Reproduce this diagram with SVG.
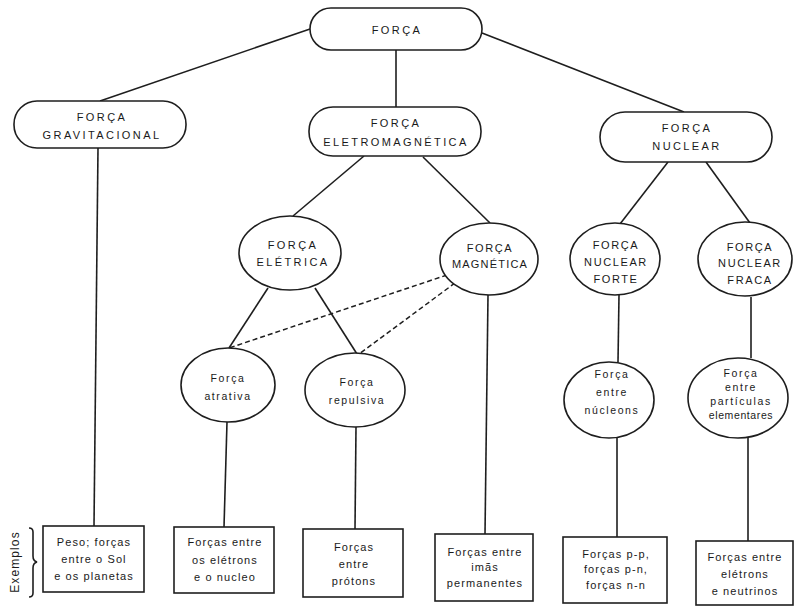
<svg xmlns="http://www.w3.org/2000/svg" width="794" height="608" viewBox="0 0 794 608">
  <style>
    .shape { fill: #ffffff; stroke: #1e1e1e; stroke-width: 1.6; }
    .link { fill: none; stroke: #1e1e1e; stroke-width: 1.6; }
    .dash { fill: none; stroke: #1e1e1e; stroke-width: 1.5; stroke-dasharray: 5 3; }
    .cap { font-family: "Liberation Sans", Arial, sans-serif; font-size: 11px; letter-spacing: 2.4px; fill: #1a1a1a; text-anchor: middle; }
    .low { font-family: "Liberation Sans", Arial, sans-serif; font-size: 11px; letter-spacing: 1.1px; fill: #1a1a1a; text-anchor: middle; }
    .small { font-family: "Liberation Sans", Arial, sans-serif; font-size: 10.5px; letter-spacing: 1.6px; fill: #1a1a1a; text-anchor: middle; }
  </style>

  <g id="connectors">
    <line class="link" x1="310" y1="29" x2="100" y2="101"/>
    <line class="link" x1="396" y1="50" x2="396" y2="107"/>
    <line class="link" x1="482" y1="33" x2="684" y2="112"/>
    <line class="link" x1="98" y1="148" x2="94" y2="526"/>
    <line class="link" x1="364" y1="156" x2="293" y2="216"/>
    <line class="link" x1="423" y1="157" x2="490" y2="223"/>
    <line class="link" x1="668" y1="162" x2="620" y2="224"/>
    <line class="link" x1="706" y1="162" x2="750" y2="223"/>
    <line class="link" x1="268" y1="288" x2="229" y2="348"/>
    <line class="link" x1="315" y1="288" x2="357" y2="354"/>
    <line class="link" x1="488" y1="295" x2="485" y2="534"/>
    <line class="link" x1="619" y1="295" x2="618" y2="362"/>
    <line class="link" x1="751" y1="297" x2="751" y2="358"/>
    <line class="link" x1="227" y1="422" x2="224" y2="527"/>
    <line class="link" x1="356" y1="427" x2="355" y2="529"/>
    <line class="link" x1="617" y1="438" x2="617" y2="537"/>
    <line class="link" x1="748" y1="438" x2="748" y2="541"/>
    <line class="dash" x1="447" y1="275" x2="229" y2="348"/>
    <line class="dash" x1="455" y1="283" x2="359" y2="354"/>
  </g>

  <g id="forca">
    <rect class="shape" x="310" y="8" width="172" height="42" rx="21"/>
    <text class="cap" x="397" y="34">FORÇA</text>
  </g>

  <g id="gravitacional">
    <rect class="shape" x="14" y="101" width="172" height="47" rx="23"/>
    <text class="cap" x="102" y="121">FORÇA</text>
    <text class="cap" x="102" y="139">GRAVITACIONAL</text>
  </g>

  <g id="eletromagnetica">
    <rect class="shape" x="309" y="107" width="172" height="49" rx="24"/>
    <text class="cap" x="396" y="127">FORÇA</text>
    <text class="cap" x="396" y="146">ELETROMAGNÉTICA</text>
  </g>

  <g id="nuclear">
    <rect class="shape" x="600" y="112" width="172" height="50" rx="25"/>
    <text class="cap" x="687" y="132">FORÇA</text>
    <text class="cap" x="687" y="150">NUCLEAR</text>
  </g>

  <g id="eletrica">
    <ellipse class="shape" cx="290" cy="253" rx="51" ry="37"/>
    <text class="cap" x="293" y="249">FORÇA</text>
    <text class="cap" x="293" y="266">ELÉTRICA</text>
  </g>

  <g id="magnetica">
    <ellipse class="shape" cx="489" cy="259" rx="49" ry="36"/>
    <text class="cap" x="490" y="252" style="letter-spacing:1.6px">FORÇA</text>
    <text class="cap" x="490" y="268" style="letter-spacing:1.2px">MAGNÉTICA</text>
  </g>

  <g id="nuclear-forte">
    <ellipse class="shape" cx="615" cy="259" rx="45" ry="36"/>
    <text class="cap" x="616" y="249" style="letter-spacing:1.6px">FORÇA</text>
    <text class="cap" x="616" y="266" style="letter-spacing:1.6px">NUCLEAR</text>
    <text class="cap" x="616" y="283" style="letter-spacing:1.6px">FORTE</text>
  </g>

  <g id="nuclear-fraca">
    <ellipse class="shape" cx="745" cy="259" rx="47" ry="37"/>
    <text class="cap" x="750" y="251" style="letter-spacing:1.6px">FORÇA</text>
    <text class="cap" x="750" y="267" style="letter-spacing:1.6px">NUCLEAR</text>
    <text class="cap" x="750" y="284" style="letter-spacing:1.6px">FRACA</text>
  </g>

  <g id="atrativa">
    <ellipse class="shape" cx="228" cy="385" rx="47" ry="37"/>
    <text class="small" x="228" y="382">Força</text>
    <text class="small" x="228" y="400">atrativa</text>
  </g>

  <g id="repulsiva">
    <ellipse class="shape" cx="355" cy="390" rx="50" ry="37"/>
    <text class="small" x="357" y="386">Força</text>
    <text class="small" x="357" y="404">repulsiva</text>
  </g>

  <g id="nucleons">
    <ellipse class="shape" cx="609" cy="400" rx="45" ry="38"/>
    <text class="small" x="612" y="378">Força</text>
    <text class="small" x="612" y="396">entre</text>
    <text class="small" x="612" y="414">núcleons</text>
  </g>

  <g id="particulas">
    <ellipse class="shape" cx="738" cy="398" rx="50" ry="40"/>
    <text class="small" x="741" y="377">Força</text>
    <text class="small" x="741" y="391">entre</text>
    <text class="small" x="741" y="405">partículas</text>
    <text class="small" x="741" y="419" style="letter-spacing:0.6px">elementares</text>
  </g>

  <g id="exemplos">
    <text class="low" transform="translate(19 562) rotate(-90)" style="font-size:12px">Exemplos</text>
    <path class="link" d="M29 528 Q33 528 33 532 L33 556 Q33 561 37 562 Q33 563 33 568 L33 593 Q33 597 29 597"/>
  </g>

  <g id="ex-gravitacional">
    <rect class="shape" x="43" y="526" width="101" height="66"/>
    <text class="low" x="94" y="546">Peso; forças</text>
    <text class="low" x="94" y="563">entre o Sol</text>
    <text class="low" x="94" y="580">e os planetas</text>
  </g>

  <g id="ex-atrativa">
    <rect class="shape" x="174" y="527" width="100" height="66"/>
    <text class="low" x="225" y="546">Forças entre</text>
    <text class="low" x="225" y="564">os elétrons</text>
    <text class="low" x="225" y="581">e o nucleo</text>
  </g>

  <g id="ex-repulsiva">
    <rect class="shape" x="303" y="529" width="100" height="68"/>
    <text class="low" x="354" y="551">Forças</text>
    <text class="low" x="354" y="568">entre</text>
    <text class="low" x="354" y="585">prótons</text>
  </g>

  <g id="ex-magnetica">
    <rect class="shape" x="435" y="534" width="98" height="67"/>
    <text class="low" x="485" y="556">Forças entre</text>
    <text class="low" x="485" y="571">imãs</text>
    <text class="low" x="485" y="587">permanentes</text>
  </g>

  <g id="ex-forte">
    <rect class="shape" x="563" y="537" width="104" height="66"/>
    <text class="low" x="616" y="558">Forças p-p,</text>
    <text class="low" x="616" y="573">forças p-n,</text>
    <text class="low" x="616" y="589">forças n-n</text>
  </g>

  <g id="ex-fraca">
    <rect class="shape" x="696" y="541" width="97" height="64"/>
    <text class="low" x="745" y="561">Forças entre</text>
    <text class="low" x="745" y="578">elétrons</text>
    <text class="low" x="745" y="595">e neutrinos</text>
  </g>
</svg>
